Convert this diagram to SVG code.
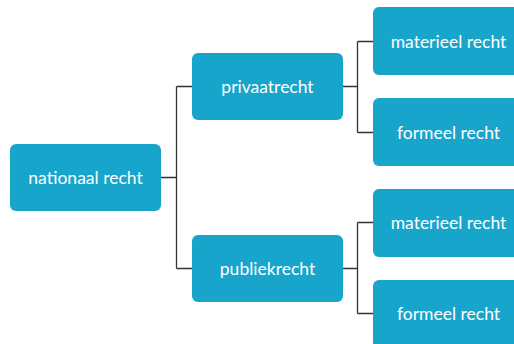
<svg xmlns="http://www.w3.org/2000/svg" width="514" height="344" viewBox="0 0 514 344">
<style>
.n{fill:#18a5cc}
.t{fill:#ffffff;font-family:Lato,"Open Sans",sans-serif;font-size:17.5px;text-anchor:middle;dominant-baseline:central}
.c{fill:none;stroke:#333333;stroke-width:1.3}
</style>
<rect width="514" height="344" fill="#ffffff"/>
<g id="connectors">
<path class="c" d="M161,177.5H176.5M176.5,86.5V268.5M176.5,86.5H192M176.5,268.5H192"/>
<path class="c" d="M343,86.5H357.5M357.5,41.5V132.5M357.5,41.5H373M357.5,132.5H373"/>
<path class="c" d="M343,268.5H357.5M357.5,222.5V313.5M357.5,222.5H373M357.5,313.5H373"/>
</g>
<g id="nationaal"><rect class="n" x="10" y="144" width="151" height="67" rx="6"/><text class="t" x="85.5" y="177.5">nationaal recht</text></g>
<g id="privaatrecht"><rect class="n" x="192" y="53" width="151" height="67" rx="6"/><text class="t" x="267.5" y="86.5">privaatrecht</text></g>
<g id="publiekrecht"><rect class="n" x="192" y="235" width="151" height="67" rx="6"/><text class="t" x="267.5" y="268.5">publiekrecht</text></g>
<g id="materieel1"><rect class="n" x="373" y="7" width="151" height="68" rx="6"/><text class="t" x="448.5" y="41">materieel recht</text></g>
<g id="formeel1"><rect class="n" x="373" y="98" width="151" height="68" rx="6"/><text class="t" x="448.5" y="132">formeel recht</text></g>
<g id="materieel2"><rect class="n" x="373" y="189" width="151" height="68" rx="6"/><text class="t" x="448.5" y="222">materieel recht</text></g>
<g id="formeel2"><rect class="n" x="373" y="280" width="151" height="68" rx="6"/><text class="t" x="448.5" y="313">formeel recht</text></g>
</svg>
